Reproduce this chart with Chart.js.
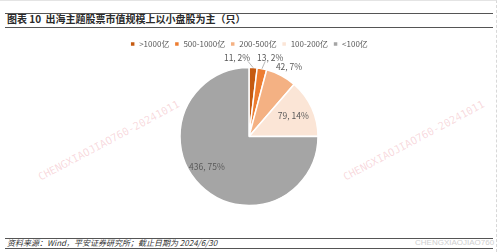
<!DOCTYPE html>
<html lang="zh">
<head>
  <meta charset="UTF-8">
  <title>出海主题股票市值规模</title>
  <script src="https://cdn.jsdelivr.net/npm/chart.js"></script>
  <script>
    // chart data
    const categories = ['>1000亿', '500-1000亿', '200-500亿', '100-200亿', '<100亿'];
    const counts = [11, 13, 42, 79, 436];
    const percents = ['2%', '2%', '7%', '14%', '75%'];
  </script>
  <style>
    html, body {
      margin: 0;
      padding: 0;
      background: #fff;
      width: 498px;
      height: 252px;
      overflow: hidden;
      font-family: "Noto Sans CJK SC", sans-serif;
    }
    .frame {
      position: absolute;
      left: 0; top: 0;
      width: 496px; height: 251px;
      border-top: 1px solid #e4e4e4;
      border-right: 1px dashed #d8d8d8;
    }
    .rule {
      position: absolute;
      left: 5px;
      width: 488px;
      height: 0;
      border-top: 1px solid #555;
    }
    #title {
      position: absolute;
      left: 7px; top: 12px;
      font-size: 10px;
      font-weight: bold;
      color: #2a2a2a;
      line-height: 14px;
      white-space: nowrap;
    }
    #source {
      position: absolute;
      left: 7px; top: 237px;
      font-size: 8px;
      font-style: italic;
      color: #333;
      line-height: 12px;
      white-space: nowrap;
    }
    #stamp {
      position: absolute;
      left: 415px; top: 238px;
      font-size: 8px;
      color: #cfcfcf;
      font-family: "Liberation Sans", sans-serif;
      white-space: nowrap;
    }
    .wm {
      position: absolute;
      font-family: "DejaVu Sans Mono", monospace;
      font-size: 10.5px;
      color: rgba(230, 120, 135, 0.28);
      white-space: nowrap;
      transform-origin: 0 0;
      transform: rotate(-28deg);
    }
    #wrap {
      position: absolute;
      left: 0; top: 30px;
      width: 498px; height: 185px;
    }
  </style>
</head>
<body>
  <div class="frame"></div>
  <div class="rule" style="top:13px"></div>
  <div id="title">图表 10&nbsp;&nbsp;出海主题股票市值规模上以小盘股为主（只）</div>
  <div class="rule" style="top:27px"></div>

  <div class="wm" style="left:36px; top:172px">CHENGXIAOJIAO760-20241011</div>
  <div class="wm" style="left:341px; top:172px">CHENGXIAOJIAO760-20241011</div>

  <div id="wrap"><canvas id="pie"></canvas></div>

  <div class="rule" style="top:238px"></div>
  <div id="source">资料来源：Wind，平安证券研究所；截止日期为 2024/6/30</div>
  <div id="stamp">CHENGXIAOJIAO760</div>
  <div class="rule" style="top:248px"></div>

  <script>
    const colors = ['#C55A11', '#ED7D31', '#F4B183', '#FBE5D6', '#A5A5A5'];

    // label placement: angle from 12 o'clock (deg, clockwise), distance from centre, leader line?
    const labelPos = [
      { ang: -8.6, r: 80, line: true },
      { ang: 15, r: 82, line: true },
      { ang: 30, r: 80, line: false },
      { ang: 64.5, r: 49, line: false },
      { ang: 234, r: 52, line: false }
    ];

    const pieLabels = {
      id: 'pieLabels',
      afterDatasetsDraw(chart) {
        const ctx = chart.ctx;
        const arcs = chart.getDatasetMeta(0).data;
        ctx.save();
        ctx.font = '8.5px "Noto Sans CJK SC", sans-serif';
        ctx.fillStyle = '#595959';
        ctx.textAlign = 'center';
        ctx.textBaseline = 'middle';
        arcs.forEach((arc, i) => {
          const p = arc.getProps(['x', 'y', 'startAngle', 'endAngle', 'outerRadius'], true);
          const a = labelPos[i].ang * Math.PI / 180;
          const lx = p.x + Math.sin(a) * labelPos[i].r;
          const ly = p.y - Math.cos(a) * labelPos[i].r;
          if (labelPos[i].line) {
            const mid = (p.startAngle + p.endAngle) / 2;
            const ex = p.x + Math.cos(mid) * p.outerRadius;
            const ey = p.y + Math.sin(mid) * p.outerRadius;
            ctx.strokeStyle = '#a6a6a6';
            ctx.lineWidth = 0.8;
            ctx.beginPath();
            ctx.moveTo(ex, ey);
            ctx.lineTo(lx + (lx < ex ? 11 : -5), ly + 4);
            ctx.stroke();
          }
          ctx.fillText(counts[i] + ', ' + percents[i], lx, ly);
        });
        ctx.restore();
      }
    };

    new Chart(document.getElementById('pie'), {
      type: 'pie',
      data: {
        labels: categories,
        datasets: [{
          data: counts,
          backgroundColor: colors,
          borderColor: '#fff',
          borderWidth: 1.5,
          radius: 69
        }]
      },
      options: {
        responsive: true,
        maintainAspectRatio: false,
        animation: false,
        layout: { padding: { top: 5, bottom: 0 } },
        plugins: {
          tooltip: { enabled: false },
          legend: {
            position: 'top',
            labels: {
              boxWidth: 5,
              boxHeight: 5,
              padding: 5,
              color: '#595959',
              font: { size: 8, family: '"Noto Sans CJK SC", sans-serif' }
            }
          }
        }
      },
      plugins: [pieLabels]
    });
  </script>
</body>
</html>
